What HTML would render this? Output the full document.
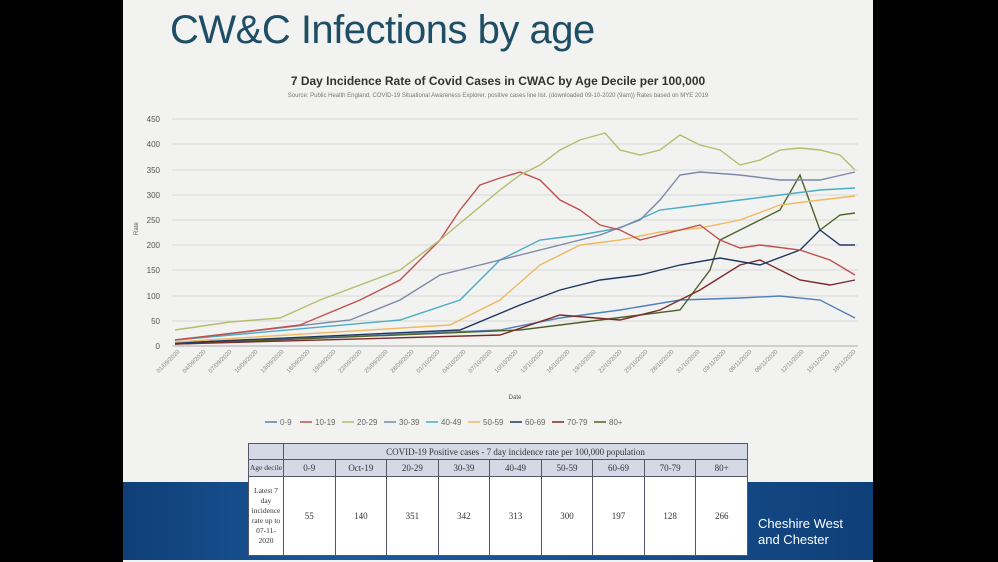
<!DOCTYPE html>
<html><head><meta charset="utf-8"><style>
html,body{margin:0;padding:0;background:#000;}
body{width:998px;height:562px;position:relative;overflow:hidden;font-family:"Liberation Sans",sans-serif;}
.slide{position:absolute;left:123px;top:0;width:750px;height:562px;background:#f2f2f0;}
.band{position:absolute;left:123px;top:482px;width:750px;height:78px;background:linear-gradient(90deg,#0f3f78,#1b5a9c 30%,#164d8c 70%,#0f3f78);}
h1{position:absolute;left:170px;top:8px;margin:0;font-weight:normal;font-size:40px;color:#1d4e66;letter-spacing:-0.5px;}
table{position:absolute;left:248px;top:443px;width:500px;border-collapse:collapse;font-family:"Liberation Serif",serif;font-size:9px;color:#333;table-layout:fixed;}
td{border:1px solid #556;text-align:center;background:#fff;padding:0;overflow:hidden;}
.h td{background:#d5d9e6;height:15px;}
.s{font-size:7.5px;line-height:10px;}
</style></head><body>
<div class="slide"></div>
<div class="band"></div>
<h1>CW&amp;C Infections by age</h1>
<div style="position:absolute;left:123px;width:750px;top:74px;text-align:center;font-size:12px;font-weight:bold;color:#333">7 Day Incidence Rate of Covid Cases in CWAC by Age Decile per 100,000</div>
<div style="position:absolute;left:123px;width:750px;top:93px;text-align:center;font-size:6px;color:#777">Source: Public Health England, COVID-19 Situational Awareness Explorer, positive cases line list. (downloaded 09-10-2020 (9am)) Rates based on MYE 2019</div>
<svg style="position:absolute;left:0;top:0" width="998" height="562">
<g stroke="#d8d8d8" stroke-width="1">
<line x1="172" x2="858" y1="119" y2="119"/><line x1="172" x2="858" y1="144" y2="144"/><line x1="172" x2="858" y1="170" y2="170"/><line x1="172" x2="858" y1="195" y2="195"/><line x1="172" x2="858" y1="220" y2="220"/><line x1="172" x2="858" y1="245" y2="245"/><line x1="172" x2="858" y1="270" y2="270"/><line x1="172" x2="858" y1="296" y2="296"/><line x1="172" x2="858" y1="321" y2="321"/><line x1="172" x2="858" y1="346" y2="346" stroke="#aaa"/>
</g>
<g font-size="8" fill="#555" text-anchor="end">
<text x="160" y="122">450</text><text x="160" y="147">400</text><text x="160" y="173">350</text><text x="160" y="198">300</text><text x="160" y="223">250</text><text x="160" y="248">200</text><text x="160" y="273">150</text><text x="160" y="299">100</text><text x="160" y="324">50</text><text x="160" y="349">0</text>
</g>
<text x="138" y="235" font-size="6" fill="#555" transform="rotate(-90 138 235)">Rate</text>
<text x="515" y="399" font-size="6" fill="#555" text-anchor="middle">Date</text>
<g font-size="6" fill="#888">
<text transform="translate(180,352) rotate(-45)" text-anchor="end">01/09/2020</text>
<text transform="translate(206,352) rotate(-45)" text-anchor="end">04/09/2020</text>
<text transform="translate(232,352) rotate(-45)" text-anchor="end">07/09/2020</text>
<text transform="translate(258,352) rotate(-45)" text-anchor="end">10/09/2020</text>
<text transform="translate(284,352) rotate(-45)" text-anchor="end">13/09/2020</text>
<text transform="translate(310,352) rotate(-45)" text-anchor="end">16/09/2020</text>
<text transform="translate(336,352) rotate(-45)" text-anchor="end">19/09/2020</text>
<text transform="translate(362,352) rotate(-45)" text-anchor="end">22/09/2020</text>
<text transform="translate(388,352) rotate(-45)" text-anchor="end">25/09/2020</text>
<text transform="translate(414,352) rotate(-45)" text-anchor="end">28/09/2020</text>
<text transform="translate(440,352) rotate(-45)" text-anchor="end">01/10/2020</text>
<text transform="translate(466,352) rotate(-45)" text-anchor="end">04/10/2020</text>
<text transform="translate(492,352) rotate(-45)" text-anchor="end">07/10/2020</text>
<text transform="translate(518,352) rotate(-45)" text-anchor="end">10/10/2020</text>
<text transform="translate(544,352) rotate(-45)" text-anchor="end">13/10/2020</text>
<text transform="translate(570,352) rotate(-45)" text-anchor="end">16/10/2020</text>
<text transform="translate(596,352) rotate(-45)" text-anchor="end">19/10/2020</text>
<text transform="translate(622,352) rotate(-45)" text-anchor="end">22/10/2020</text>
<text transform="translate(648,352) rotate(-45)" text-anchor="end">25/10/2020</text>
<text transform="translate(674,352) rotate(-45)" text-anchor="end">28/10/2020</text>
<text transform="translate(700,352) rotate(-45)" text-anchor="end">31/10/2020</text>
<text transform="translate(726,352) rotate(-45)" text-anchor="end">03/11/2020</text>
<text transform="translate(752,352) rotate(-45)" text-anchor="end">06/11/2020</text>
<text transform="translate(778,352) rotate(-45)" text-anchor="end">09/11/2020</text>
<text transform="translate(804,352) rotate(-45)" text-anchor="end">12/11/2020</text>
<text transform="translate(830,352) rotate(-45)" text-anchor="end">15/11/2020</text>
<text transform="translate(856,352) rotate(-45)" text-anchor="end">18/11/2020</text>
</g>
<g fill="none" stroke-width="1.4">
<polyline stroke="#4f81bd" points="175,344 500,330 560,318 620,310 680,300 740,298 780,296 820,300 855,318"/>
<polyline stroke="#4f6228" points="175,344 520,330 600,320 680,310 710,270 720,240 760,220 780,210 800,175 820,230 840,215 855,213"/>
<polyline stroke="#7b2a2a" points="175,344 500,335 560,315 620,320 660,310 700,290 740,265 760,260 800,280 830,285 855,280"/>
<polyline stroke="#1f3864" points="175,343 460,330 520,305 560,290 600,280 640,275 680,265 720,258 760,265 800,250 820,230 840,245 855,245"/>
<polyline stroke="#f0b860" points="175,342 450,325 500,300 540,265 580,245 620,240 660,232 700,228 740,220 780,205 820,200 855,196"/>
<polyline stroke="#4bacc6" points="175,340 400,320 460,300 500,260 540,240 580,235 620,228 660,210 700,205 740,200 780,195 820,190 855,188"/>
<polyline stroke="#7c88a8" points="175,340 350,320 400,300 440,275 480,265 520,255 560,245 600,235 640,220 660,200 680,175 700,172 740,175 780,180 820,180 855,172"/>
<polyline stroke="#c0504d" points="175,340 300,325 360,300 400,280 440,240 460,210 480,185 500,178 520,172 540,180 560,200 580,210 600,225 620,230 640,240 660,235 700,225 720,240 740,248 760,245 800,250 830,260 855,275"/>
<polyline stroke="#b5bd6a" points="175,330 230,322 280,318 320,300 360,285 400,270 440,240 470,215 500,190 520,175 540,165 560,150 580,140 605,133 620,150 640,155 660,150 680,135 700,145 720,150 740,165 760,160 780,150 800,148 820,150 840,155 855,170"/>
</g>
<g font-size="8" fill="#666" stroke-width="1.5">
<line x1="265" x2="277" y1="422" y2="422" stroke="#4f81bd"/><text x="280" y="425">0-9</text>
<line x1="300" x2="312" y1="422" y2="422" stroke="#c0504d"/><text x="315" y="425">10-19</text>
<line x1="342" x2="354" y1="422" y2="422" stroke="#b5bd6a"/><text x="357" y="425">20-29</text>
<line x1="384" x2="396" y1="422" y2="422" stroke="#7c88a8"/><text x="399" y="425">30-39</text>
<line x1="426" x2="438" y1="422" y2="422" stroke="#4bacc6"/><text x="441" y="425">40-49</text>
<line x1="468" x2="480" y1="422" y2="422" stroke="#f0b860"/><text x="483" y="425">50-59</text>
<line x1="510" x2="522" y1="422" y2="422" stroke="#1f3864"/><text x="525" y="425">60-69</text>
<line x1="552" x2="564" y1="422" y2="422" stroke="#7b2a2a"/><text x="567" y="425">70-79</text>
<line x1="594" x2="606" y1="422" y2="422" stroke="#4f6228"/><text x="609" y="425">80+</text>
</g>
<text x="758" y="528" font-size="13" fill="#fff">Cheshire West</text>
<text x="758" y="544" font-size="13" fill="#fff">and Chester</text>
</svg>
<table>
<tr class="h"><td style="width:34px"></td><td colspan="9">COVID-19 Positive cases - 7 day incidence rate per 100,000 population</td></tr>
<tr class="h" style="height:17px"><td class="s">Age decile</td><td>0-9</td><td>Oct-19</td><td>20-29</td><td>30-39</td><td>40-49</td><td>50-59</td><td>60-69</td><td>70-79</td><td>80+</td></tr>
<tr style="height:79px"><td class="s">Latest 7 day incidence rate up to 07-11-2020</td><td>55</td><td>140</td><td>351</td><td>342</td><td>313</td><td>300</td><td>197</td><td>128</td><td>266</td></tr>
</table>
</body></html>
